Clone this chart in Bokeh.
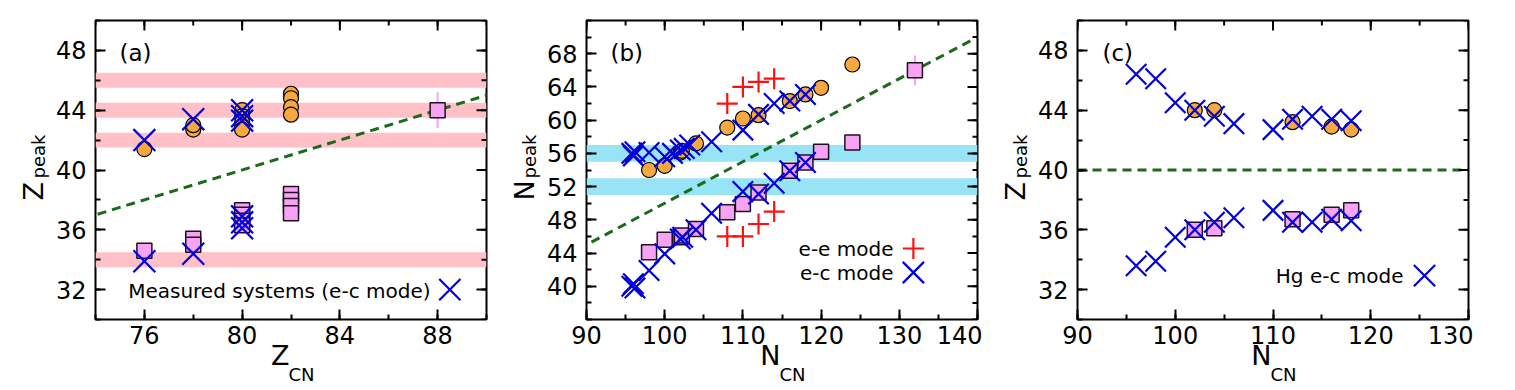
from math import pi
from bokeh.plotting import figure
from bokeh.layouts import row
from bokeh.models import (Range1d, FixedTicker, Label, BoxAnnotation, Span, Slope)
from bokeh.core.properties import value
from bokeh.embed import file_html
from bokeh.resources import INLINE

FONT = "DejaVu Sans"
ORANGE = "#F7A83E"
VIOLET = "#F5A3F2"
BLUE = "#0000DD"
RED = "#FF1010"
GREEN = "#1B6B1B"
PINKBAND = "#FFC0C8"
CYANBAND = "#98E4F7"

# ---------------- Panel (a) data ----------------
a_circ_x = [76, 78, 78, 80, 80, 80, 80, 80, 82, 82, 82, 82]
a_circ_y = [41.4, 42.7, 43.0, 44.0, 43.6, 43.2, 42.9, 42.7, 45.1, 44.8, 44.2, 43.7]
a_sq_x = [76, 78, 78, 80, 80, 80, 80, 82, 82, 82, 82, 88]
a_sq_y = [34.6, 35.4, 35.0, 37.3, 37.0, 36.6, 36.3, 38.4, 38.0, 37.6, 37.1, 44.0]
a_err_x = [88]
a_err_lo = [42.8]
a_err_hi = [45.2]
a_ec_x = [76, 78, 80, 80, 80, 76, 78, 80, 80, 80]
a_ec_y = [42.0, 43.4, 44.0, 43.6, 43.3, 33.9, 34.4, 36.9, 36.5, 36.1]
a_band_lo = [45.5, 43.5, 41.5, 33.5]
a_band_hi = [46.5, 44.5, 42.5, 34.5]

# ---------------- Panel (b) data ----------------
b_circ_x = [98, 100, 102, 102.2, 104, 108, 110, 112, 116, 118, 120, 124]
b_circ_y = [54.0, 54.5, 56.1, 56.3, 57.2, 59.1, 60.2, 60.6, 62.3, 63.1, 63.9, 66.7]
b_sq_x = [98, 100, 102, 102.2, 104, 108, 110, 112, 116, 118, 120, 124, 132]
b_sq_y = [44.1, 45.6, 45.9, 46.1, 46.9, 48.9, 49.9, 51.3, 53.9, 54.9, 56.2, 57.3, 66.0]
b_err_x = [132]
b_err_lo = [64.2]
b_err_hi = [67.8]
b_ee_x = [108, 110, 112, 114, 108, 110, 112, 114]
b_ee_y = [62.0, 64.0, 64.6, 65.0, 46.0, 46.0, 47.5, 49.0]
b_ec_x = [95.8, 96.0, 96.2, 98, 100, 101, 102, 102.5, 103.2, 106, 110, 112, 114, 116, 118,
          95.8, 96.0, 96.2, 98, 100, 102, 102.3, 104, 106, 110, 112, 114, 116, 118]
b_ec_y = [56.0, 55.7, 56.2, 56.1, 55.6, 56.0, 56.4, 56.6, 57.0, 57.4, 58.8, 60.7, 62.0, 62.3, 63.1,
          40.0, 40.3, 39.8, 41.9, 43.9, 45.7, 45.9, 46.8, 48.8, 51.4, 51.1, 52.4, 53.9, 54.9]
b_band_lo = [55.0, 51.0]
b_band_hi = [57.0, 53.0]

# ---------------- Panel (c) data ----------------
c_circ_x = [102, 104, 112, 116, 118]
c_circ_y = [44.0, 44.0, 43.2, 42.9, 42.7]
c_sq_x = [102, 104, 112, 116, 118]
c_sq_y = [36.0, 36.1, 36.7, 37.0, 37.3]
c_ec_x = [96, 98, 100, 102, 104, 106, 110, 112, 114, 116, 118,
          96, 98, 100, 102, 104, 106, 110, 112, 114, 116, 118]
c_ec_y = [46.4, 46.1, 44.5, 44.0, 43.6, 43.1, 42.7, 43.4, 43.6, 43.4, 43.3,
          33.6, 33.9, 35.5, 36.0, 36.5, 36.8, 37.3, 36.5, 36.5, 36.7, 36.6]


def base_fig(xr, yr, xt, xm, yt, ym):
    p = figure(width=491, height=385, x_range=Range1d(*xr), y_range=Range1d(*yr),
               output_backend="svg", toolbar_location=None,
               min_border_left=95, min_border_right=5, min_border_top=20,
               min_border_bottom=66)
    p.xgrid.visible = False
    p.ygrid.visible = False
    p.outline_line_color = "black"
    p.outline_line_width = 2
    p.outline_line_alpha = 1
    p.xaxis.ticker = FixedTicker(ticks=xt, minor_ticks=xm)
    p.yaxis.ticker = FixedTicker(ticks=yt, minor_ticks=ym)
    for ax in p.axis:
        ax.axis_line_color = None
        ax.major_tick_in = 10
        ax.major_tick_out = 0
        ax.minor_tick_in = 5
        ax.minor_tick_out = 0
        ax.major_tick_line_width = 2
        ax.minor_tick_line_width = 2
        ax.major_tick_line_color = "black"
        ax.minor_tick_line_color = "black"
        ax.major_label_text_font = FONT
        ax.major_label_text_font_size = "24px"
        ax.major_label_text_color = "black"
    p.xaxis.major_label_standoff = 6
    p.yaxis.major_label_standoff = 9
    # inward ticks on top and right edges (half of each dash is clipped by the frame)
    ytop = [yr[1]]
    xright = [xr[1]]
    p.scatter(xt, ytop * len(xt), marker="dash", size=20, angle=pi / 2,
              line_color="black", line_width=2)
    p.scatter(xm, ytop * len(xm), marker="dash", size=10, angle=pi / 2,
              line_color="black", line_width=2)
    p.scatter(xright * len(yt), yt, marker="dash", size=20,
              line_color="black", line_width=2)
    p.scatter(xright * len(ym), ym, marker="dash", size=10,
              line_color="black", line_width=2)
    return p


def txt(p, text, x, y, size, align="left", baseline="alphabetic"):
    p.add_layout(Label(x=x, y=y, x_units="screen", y_units="screen", text=text,
                       text_font=FONT, text_font_size=size, text_align=align,
                       text_baseline=baseline, text_color="black"))


def outer_text(p, x0, y0, text, xo, yo, size, align, angle=0.0):
    p.text(x=[x0], y=[y0], text=[text], x_offset=xo, y_offset=yo, angle=angle,
           text_font=value(FONT), text_font_size=size, text_align=align,
           text_baseline="alphabetic", text_color="black", level="overlay")


def axis_labels(p, xr, yr, xmain, xsub, ymain, ysub):
    x0, y0 = xr[0], yr[0]
    outer_text(p, x0, y0, xmain, 194, 36, "27px", "right")
    outer_text(p, x0, y0, xsub, 193, 55, "18px", "left")
    outer_text(p, x0, y0, ymain, -62, -119, "27px", "left", angle=pi / 2)
    outer_text(p, x0, y0, ysub, -57, -141, "18px", "left", angle=pi / 2)


def bands(p, lo, hi, color):
    for b, t in zip(lo, hi):
        p.add_layout(BoxAnnotation(bottom=b, top=t, fill_color=color, fill_alpha=1,
                                   line_color=None, level="underlay"))


def circles(p, x, y):
    p.scatter(x, y, marker="circle", size=15, fill_color=ORANGE, line_color="black",
              line_width=1.2)


def squares(p, x, y):
    p.scatter(x, y, marker="square", size=15, fill_color=VIOLET, line_color="#201020",
              line_width=1.5)


def xs(p, x, y, size=29):
    p.scatter(x, y, marker="x", size=size, line_color=BLUE, line_width=2.2)


def pluses(p, x, y):
    p.scatter(x, y, marker="cross", size=21, line_color=RED, line_width=2.2)


# ---------------- Panel (a) ----------------
AX, AY = (74, 90), (30, 50)
pa = base_fig(AX, AY, [76, 80, 84, 88], list(range(74, 91, 2)),
              [32, 36, 40, 44, 48], list(range(30, 51, 2)))
bands(pa, a_band_lo, a_band_hi, PINKBAND)
pa.add_layout(Slope(gradient=0.5, y_intercept=0, line_color=GREEN, line_width=3,
                    line_dash="9 6", level="underlay"))
pa.segment(a_err_x, a_err_lo, a_err_x, a_err_hi, line_color=VIOLET, line_width=2)
circles(pa, a_circ_x, a_circ_y)
squares(pa, a_sq_x, a_sq_y)
xs(pa, a_ec_x, a_ec_y, size=31)
axis_labels(pa, AX, AY, "Z", "CN", "Z", "peak")
txt(pa, "(a)", 24, 267, "23px", baseline="middle")
txt(pa, "Measured systems (e-c mode)", 335, 29, "20px", align="right", baseline="middle")
pa.scatter([88.5], [32.0], marker="x", size=30, line_color=BLUE, line_width=2.2)

# ---------------- Panel (b) ----------------
BX, BY = (90, 140), (36, 72)
pb = base_fig(BX, BY, [90, 100, 110, 120, 130, 140], list(range(90, 141, 5)),
              [40, 44, 48, 52, 56, 60, 64, 68], list(range(36, 73, 2)))
bands(pb, b_band_lo, b_band_hi, CYANBAND)
pb.add_layout(Slope(gradient=0.5, y_intercept=0, line_color=GREEN, line_width=3,
                    line_dash="9 6", level="underlay"))
pb.segment(b_err_x, b_err_lo, b_err_x, b_err_hi, line_color=VIOLET, line_width=2)
circles(pb, b_circ_x, b_circ_y)
squares(pb, b_sq_x, b_sq_y)
pluses(pb, b_ee_x, b_ee_y)
xs(pb, b_ec_x, b_ec_y, size=29)
axis_labels(pb, BX, BY, "N", "CN", "N", "peak")
txt(pb, "(b)", 24, 267, "23px", baseline="middle")
txt(pb, "e-e mode", 307, 71, "20px", align="right", baseline="middle")
txt(pb, "e-c mode", 307, 47, "20px", align="right", baseline="middle")
pb.scatter([131.8], [44.55], marker="cross", size=21, line_color=RED, line_width=2.2)
pb.scatter([131.8], [41.66], marker="x", size=30, line_color=BLUE, line_width=2.2)

# ---------------- Panel (c) ----------------
CX, CY = (90, 130), (30, 50)
pc = base_fig(CX, CY, [90, 100, 110, 120, 130], list(range(90, 131, 5)),
              [32, 36, 40, 44, 48], list(range(30, 51, 2)))
pc.add_layout(Span(location=40, dimension="width", line_color=GREEN, line_width=3,
                   line_dash="9 6", level="underlay"))
circles(pc, c_circ_x, c_circ_y)
squares(pc, c_sq_x, c_sq_y)
xs(pc, c_ec_x, c_ec_y, size=29)
axis_labels(pc, CX, CY, "N", "CN", "Z", "peak")
txt(pc, "(c)", 25, 267, "23px", baseline="middle")
txt(pc, "Hg e-c mode", 326, 44, "20px", align="right", baseline="middle")
pc.scatter([125.5], [32.94], marker="x", size=30, line_color=BLUE, line_width=2.2)

layout = row(pa, pb, pc)
open("out.html", "w").write(file_html(layout, INLINE))
